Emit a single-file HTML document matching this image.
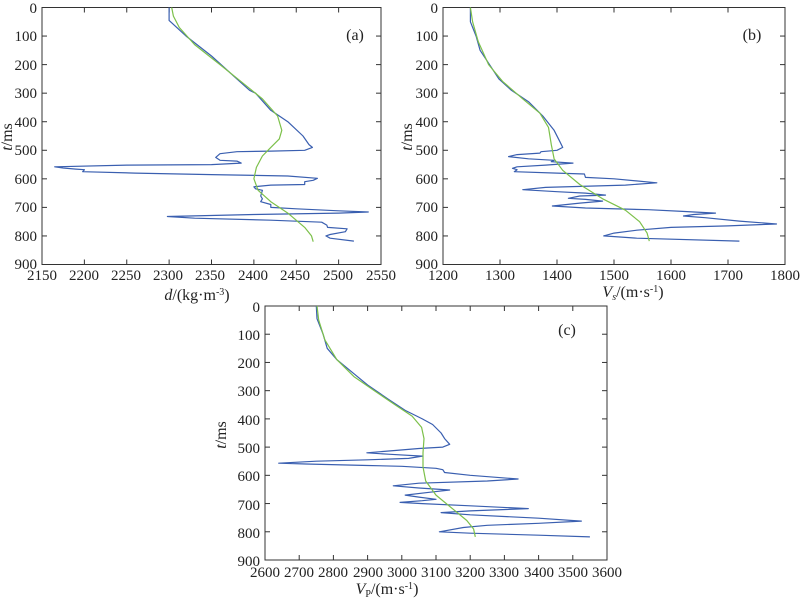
<!DOCTYPE html>
<html><head><meta charset="utf-8"><style>
body{margin:0;background:#fff;}
svg{display:block;font-family:"Liberation Serif","Times New Roman",serif;}
text{font-size:15px;fill:#222;}
</style></head><body>
<svg id="s" width="800" height="603" xmlns="http://www.w3.org/2000/svg">
<g id="g"></g>
<g text-anchor="end">
<text x="37" y="13">0</text><text x="37" y="41">100</text><text x="37" y="70">200</text><text x="37" y="98">300</text><text x="37" y="127">400</text><text x="37" y="155">500</text><text x="37" y="184">600</text><text x="37" y="212">700</text><text x="37" y="241">800</text><text x="37" y="269">900</text>
<text x="438" y="13">0</text><text x="438" y="41">100</text><text x="438" y="70">200</text><text x="438" y="98">300</text><text x="438" y="127">400</text><text x="438" y="155">500</text><text x="438" y="184">600</text><text x="438" y="212">700</text><text x="438" y="241">800</text><text x="438" y="269">900</text>
<text x="260" y="312">0</text><text x="260" y="340">100</text><text x="260" y="368">200</text><text x="260" y="396">300</text><text x="260" y="425">400</text><text x="260" y="453">500</text><text x="260" y="481">600</text><text x="260" y="510">700</text><text x="260" y="538">800</text><text x="260" y="566">900</text>
</g>
<g text-anchor="middle">
<text x="42" y="280">2150</text><text x="84" y="280">2200</text><text x="126" y="280">2250</text><text x="168" y="280">2300</text><text x="210" y="280">2350</text><text x="253" y="280">2400</text><text x="295" y="280">2450</text><text x="338" y="280">2500</text><text x="381" y="280">2550</text>
<text x="443" y="280">1200</text><text x="500" y="280">1300</text><text x="557" y="280">1400</text><text x="614" y="280">1500</text><text x="671" y="280">1600</text><text x="728" y="280">1700</text><text x="785" y="280">1800</text>
<text x="265" y="577">2600</text><text x="299" y="577">2700</text><text x="333" y="577">2800</text><text x="368" y="577">2900</text><text x="402" y="577">3000</text><text x="436" y="577">3100</text><text x="470" y="577">3200</text><text x="504" y="577">3300</text><text x="539" y="577">3400</text><text x="573" y="577">3500</text><text x="607" y="577">3600</text>
<text x="197" y="300" style="font-size:16px"><tspan font-style="italic">d</tspan>/(kg·m<tspan dy="-5" style="font-size:10px">-3</tspan><tspan dy="5">)</tspan></text>
<text x="633" y="297" style="font-size:16px"><tspan font-style="italic">V</tspan><tspan dy="3" style="font-size:10px" font-style="italic">s</tspan><tspan dy="-3">/(m·s</tspan><tspan dy="-5" style="font-size:10px">-1</tspan><tspan dy="5">)</tspan></text>
<text x="387" y="594" style="font-size:16px"><tspan font-style="italic">V</tspan><tspan dy="3" style="font-size:10px">P</tspan><tspan dy="-3">/(m·s</tspan><tspan dy="-5" style="font-size:10px">-1</tspan><tspan dy="5">)</tspan></text>
<text x="355" y="40" style="font-size:16px">(a)</text>
<text x="752" y="40" style="font-size:16px">(b)</text>
<text x="567" y="335" style="font-size:16px">(c)</text>
<text transform="translate(12,137) rotate(-90)" style="font-size:16px"><tspan font-style="italic">t</tspan>/ms</text>
<text transform="translate(412,137) rotate(-90)" style="font-size:16px"><tspan font-style="italic">t</tspan>/ms</text>
<text transform="translate(226,435) rotate(-90)" style="font-size:16px"><tspan font-style="italic">t</tspan>/ms</text>
</g>
</svg>
<script>
var g=document.getElementById('g'),NS='http://www.w3.org/2000/svg';
function el(t,a){var e=document.createElementNS(NS,t);for(var k in a)e.setAttribute(k,a[k]);g.appendChild(e);return e;}
function panel(P){
 var X=function(v){return P.x0+(v-P.v0)/(P.v1-P.v0)*(P.x1-P.x0)},Y=function(t){return P.y0+t/900*(P.y1-P.y0)};
 el('rect',{x:P.x0,y:P.y0,width:P.x1-P.x0,height:P.y1-P.y0,fill:'none',stroke:'#333','stroke-width':1});
 for(var t=0;t<=900;t+=100){var y=Y(t);el('line',{x1:P.x0,y1:y,x2:P.x0+5,y2:y,stroke:'#333'});el('line',{x1:P.x1,y1:y,x2:P.x1-5,y2:y,stroke:'#333'});}
 for(var v=P.v0;v<=P.v1+1e-6;v+=P.dv){var x=X(v);el('line',{x1:x,y1:P.y1,x2:x,y2:P.y1-5,stroke:'#333'});el('line',{x1:x,y1:P.y0,x2:x,y2:P.y0+5,stroke:'#333'});}
 function pl(d,c){var s='';for(var i=0;i<d.length;i+=2)s+=X(d[i]).toFixed(1)+','+Y(d[i+1]).toFixed(1)+' ';el('polyline',{points:s,fill:'none',stroke:c,'stroke-width':1.2,'stroke-linejoin':'round'});}
 pl(P.b,'#3a5fb0');pl(P.g,'#7cc04a');
}
panel({x0:42,x1:381,y0:7.5,y1:264.5,v0:2150,v1:2550,dv:50,
b:[2300,0,2300,45,2320,100,2350,170,2380,250,2395,290,2402,300,2420,360,2440,400,2458,450,2465,480,2469,490,2460,500,2420,503,2380,505,2360,512,2355,525,2360,535,2380,538,2385,545,2350,550,2250,552,2165,558,2175,562,2190,566,2200,568,2198,575,2260,580,2350,585,2440,590,2475,598,2470,605,2460,610,2460,620,2420,622,2400,628,2402,635,2410,640,2408,660,2410,670,2408,680,2420,690,2420,700,2450,705,2500,712,2535,716,2500,720,2400,725,2298,732,2330,738,2420,745,2480,752,2486,762,2487,770,2510,775,2508,785,2490,795,2485,800,2490,808,2518,818],
g:[2303,0,2305,30,2312,70,2330,130,2360,200,2385,260,2410,320,2428,380,2433,430,2430,460,2420,490,2410,520,2403,560,2400,600,2405,640,2420,680,2440,720,2460,770,2468,800,2470,820]});
panel({x0:443,x1:785,y0:7.5,y1:264.5,v0:1200,v1:1800,dv:100,
b:[1248,0,1248,50,1258,100,1265,150,1275,180,1298,250,1320,290,1350,330,1375,380,1395,430,1405,470,1410,490,1400,500,1372,505,1370,510,1330,515,1315,522,1350,530,1395,535,1390,540,1428,545,1380,552,1330,558,1322,563,1330,568,1325,575,1400,580,1448,583,1450,595,1500,600,1575,614,1520,622,1380,630,1340,638,1400,645,1450,650,1485,657,1440,660,1420,668,1450,672,1480,678,1440,685,1392,695,1450,702,1560,708,1620,714,1678,720,1640,725,1622,730,1660,736,1720,748,1785,758,1700,765,1600,770,1540,780,1500,790,1482,800,1540,808,1720,818],
g:[1248,0,1252,50,1262,120,1280,200,1305,260,1340,320,1370,370,1385,420,1390,480,1395,530,1410,570,1440,620,1480,670,1520,710,1545,750,1558,790,1562,818]});
panel({x0:265,x1:607,y0:306,y1:560,v0:2600,v1:3600,dv:100,
b:[2750,0,2752,45,2770,100,2782,150,2810,190,2860,240,2900,280,2960,330,3010,370,3060,400,3090,420,3115,450,3125,470,3140,490,3120,500,3050,505,2980,512,2898,520,2960,525,3060,532,3020,540,2900,545,2750,550,2640,557,2720,560,2900,565,3000,568,3100,575,3120,580,3125,590,3200,600,3340,613,3250,620,3050,628,2975,637,3050,645,3140,652,3080,660,3010,670,3050,677,3100,685,3060,690,2995,696,3060,700,3200,708,3370,718,3200,726,3115,732,3200,740,3400,752,3525,762,3400,770,3250,777,3180,785,3110,800,3200,805,3400,812,3550,818],
g:[2752,0,2757,50,2775,120,2810,190,2860,250,2920,300,2980,350,3030,390,3058,430,3065,470,3062,520,3062,570,3070,620,3100,670,3150,720,3190,760,3210,790,3215,818]});
</script>
</body></html>
